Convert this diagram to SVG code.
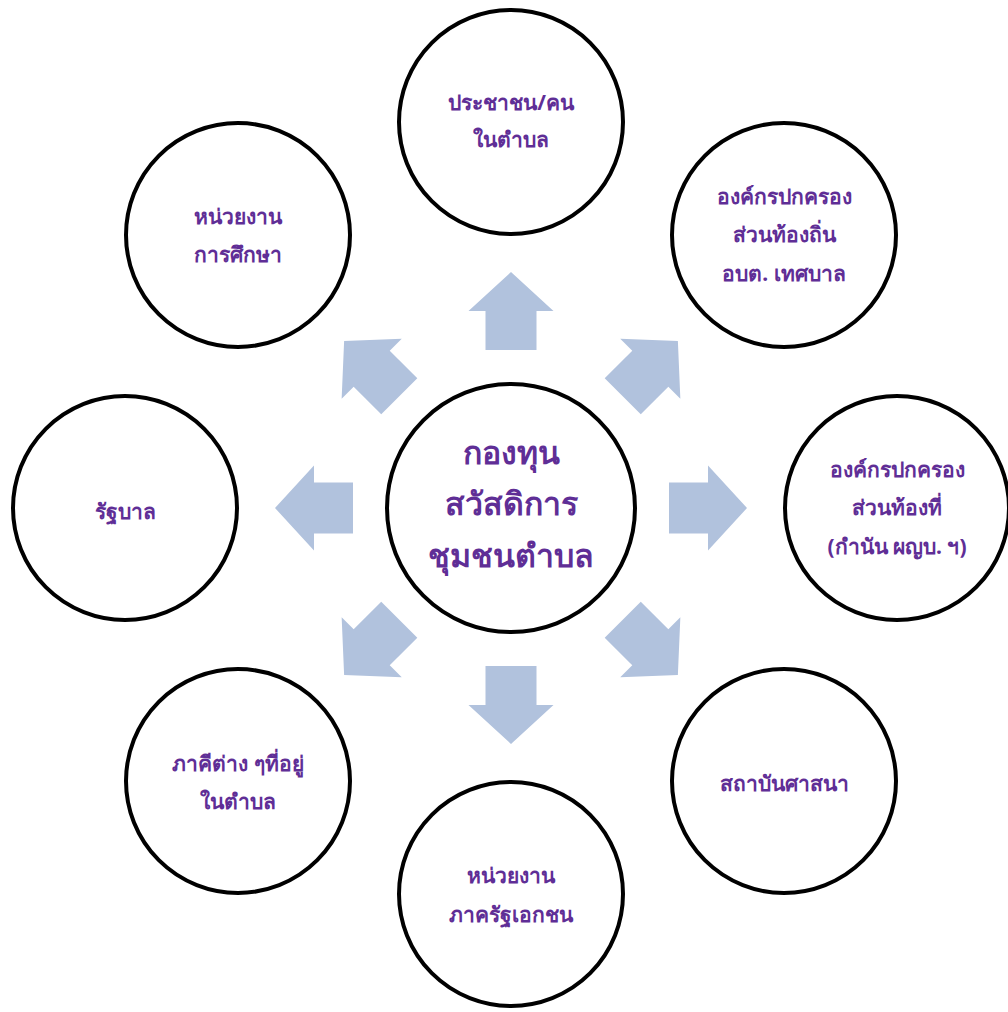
<svg xmlns="http://www.w3.org/2000/svg" width="1008" height="1012" viewBox="0 0 1008 1012">
<style>
.c{fill:#fff;stroke:#000;stroke-width:4}
.t{font-family:"Noto Sans","DejaVu Sans",sans-serif;font-weight:bold;font-size:21px;fill:#5f2e96;text-anchor:middle}
.tb{font-size:32px}
.a{fill:#b1c2dd}
</style>
<defs>
<path id="arr" d="M0,-236 L42.5,-197 L25.5,-197 L25.5,-158 L-25.5,-158 L-25.5,-197 L-42.5,-197 Z"/>
</defs>
<rect width="1008" height="1012" fill="#fff"/>
<g id="connectors" class="a" transform="translate(511,508)">
<use href="#arr"/>
<use href="#arr" transform="rotate(45)"/>
<use href="#arr" transform="rotate(90)"/>
<use href="#arr" transform="rotate(135)"/>
<use href="#arr" transform="rotate(180)"/>
<use href="#arr" transform="rotate(225)"/>
<use href="#arr" transform="rotate(270)"/>
<use href="#arr" transform="rotate(315)"/>
</g>
<g id="center">
<circle class="c" cx="511" cy="508" r="124"/>
<text class="t tb" x="511" y="464">กองทุน</text>
<text class="t tb" x="511" y="515">สวัสดิการ</text>
<text class="t tb" x="511" y="567">ชุมชนตำบล</text>
</g>
<g id="n-top">
<circle class="c" cx="511" cy="122" r="112"/>
<text class="t" x="511" y="110">ประชาชน/คน</text>
<text class="t" x="511" y="147">ในตำบล</text>
</g>
<g id="n-topright">
<circle class="c" cx="784" cy="235" r="112"/>
<text class="t" x="784" y="204">องค์กรปกครอง</text>
<text class="t" x="784" y="242">ส่วนท้องถิ่น</text>
<text class="t" x="784" y="281">อบต. เทศบาล</text>
</g>
<g id="n-right">
<circle class="c" cx="897" cy="508" r="112"/>
<text class="t" x="897" y="477">องค์กรปกครอง</text>
<text class="t" x="897" y="515">ส่วนท้องที่</text>
<text class="t" x="897" y="554">(กำนัน ผญบ. ฯ)</text>
</g>
<g id="n-bottomright">
<circle class="c" cx="784" cy="781" r="112"/>
<text class="t" x="784" y="791">สถาบันศาสนา</text>
</g>
<g id="n-bottom">
<circle class="c" cx="511" cy="894" r="112"/>
<text class="t" x="511" y="883">หน่วยงาน</text>
<text class="t" x="511" y="922">ภาครัฐเอกชน</text>
</g>
<g id="n-bottomleft">
<circle class="c" cx="238" cy="781" r="112"/>
<text class="t" x="238" y="771">ภาคีต่าง ๆที่อยู่</text>
<text class="t" x="238" y="809">ในตำบล</text>
</g>
<g id="n-left">
<circle class="c" cx="125" cy="508" r="112"/>
<text class="t" x="125" y="519">รัฐบาล</text>
</g>
<g id="n-topleft">
<circle class="c" cx="238" cy="235" r="112"/>
<text class="t" x="238" y="224">หน่วยงาน</text>
<text class="t" x="238" y="262">การศึกษา</text>
</g>
</svg>
